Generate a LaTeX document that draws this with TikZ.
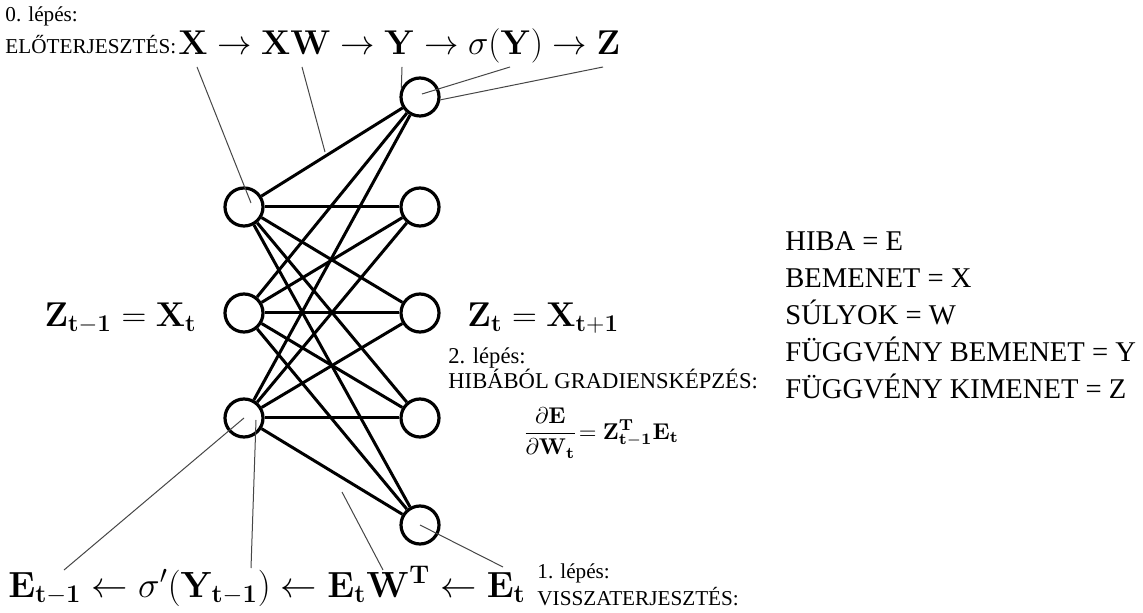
\RequirePackage{fix-cm}
\documentclass[tikz,border=0pt]{standalone}
\usepackage{amsmath,amssymb}
\usepackage[no-math]{fontspec}
\setmainfont{Liberation Serif}
\usetikzlibrary{calc}
\definecolor{ptrGrey}{RGB}{70,70,70}

\begin{document}
\begin{tikzpicture}[
      x=0.5pt,y=-0.5pt,
      neuron/.style={circle,draw=black,fill=white,line width=1.6pt,
                     minimum size=19pt,inner sep=0pt},
      syn/.style={line width=1.5pt,black},
      ptr/.style={ptrGrey,line width=0.5pt},
      lbl/.style={font=\fontsize{10.6}{12}\selectfont,inner sep=0pt},
      eqn/.style={font=\fontsize{17.2}{20}\selectfont,inner sep=0pt},
      leg/.style={font=\fontsize{14.3}{18.5}\selectfont,inner sep=0pt,align=left}]

    \useasboundingbox[fill=white] (0,0) rectangle (1143,613);

    % ---------- neurons ----------
    \foreach \i/\y in {1/207,2/313,3/418}
      \node[neuron] (l\i) at (244,\y) {};
    \foreach \j/\y in {1/97,2/207,3/313,4/418,5/525}
      \node[neuron] (r\j) at (420,\y) {};
    \foreach \i in {1,2,3}
      \foreach \j in {1,...,5} \draw[syn] (l\i) -- (r\j);

    % ---------- step 0 : forward ----------
    \node[lbl,anchor=base west] (s0a) at (5,22) {0. lépés:};
    \node[lbl,anchor=base west] (s0b) at (5,54) {ELŐTERJESZTÉS:};
    \node[eqn,anchor=base west] (fwd) at (178,55)
      {$\mathbf{X}\rightarrow\mathbf{XW}\rightarrow\mathbf{Y}\rightarrow\sigma(\mathbf{Y})\rightarrow\mathbf{Z}$};

    % ---------- layer labels ----------
    \node[eqn,anchor=east] (zin)  at (197,318) {$\mathbf{Z_{t-1}}=\mathbf{X_t}$};
    \node[eqn,anchor=west] (zout) at (467,318) {$\mathbf{Z_t}=\mathbf{X_{t+1}}$};

    % ---------- step 2 : gradient ----------
    \node[lbl,font=\fontsize{11.3}{13}\selectfont,anchor=base west] (s2a) at (448,364) {2. lépés:};
    \node[lbl,font=\fontsize{11.3}{13}\selectfont,anchor=base west] (s2b) at (448,389) {HIBÁBÓL GRADIENSKÉPZÉS:};
    \node[font=\fontsize{11.4}{14}\selectfont,inner sep=0pt] (grad) at (601,433)
      {$\dfrac{\partial\mathbf{E}}{\partial\mathbf{W_t}}\mkern-4mu=\mathbf{Z^T_{t-1}E_t}$};

    % ---------- step 1 : backward ----------
    \node[eqn,font=\fontsize{18.2}{21}\selectfont,anchor=base west] (bwd) at (8,597)
      {$\mathbf{E_{t-1}}\leftarrow\sigma'(\mathbf{Y_{t-1}})\leftarrow\mathbf{E_tW^T}\leftarrow\mathbf{E_t}$};
    \node[lbl,anchor=base west] (s1a) at (537,578) {1. lépés:};
    \node[lbl,anchor=base west] (s1b) at (537,605) {VISSZATERJESZTÉS:};

    % ---------- legend ----------
    \node[leg,anchor=north west] (legend) at (785,231)
      {HIBA = E\\BEMENET = X\\SÚLYOK = W\\FÜGGVÉNY BEMENET = Y\\FÜGGVÉNY KIMENET = Z};

    % ---------- pointers ----------
    \coordinate (pX)  at (197,67);
    \coordinate (pXW) at (302,67);
    \coordinate (pY)  at (402,67);
    \coordinate (pS)  at (510,67);
    \coordinate (pZ)  at (603,67);
    \coordinate (wA)  at (325,152);
    \coordinate (qE)  at (64,570);
    \coordinate (qS)  at (251,568);
    \coordinate (qEW) at (383,570);
    \coordinate (qEt) at (503,567);
    \coordinate (wB)  at (342,492);
    \draw[ptr] (pX) -- ($(l1.center)+(7,-4)$);
    \draw[ptr] (pXW) -- (wA);
    \draw[ptr] (pY) -- (r1.155);
    \draw[ptr] (pS) -- ($(r1.center)+(2,-3)$);
    \draw[ptr] (pZ) -- (r1.-8);
    \draw[ptr] (qE) -- (l3.center);
    \draw[ptr] (qS) -- ($(l3.center)+(12,2)$);
    \draw[ptr] (qEW) -- (wB);
    \draw[ptr] (qEt) -- (r5.center);
  \end{tikzpicture}
\end{document}
